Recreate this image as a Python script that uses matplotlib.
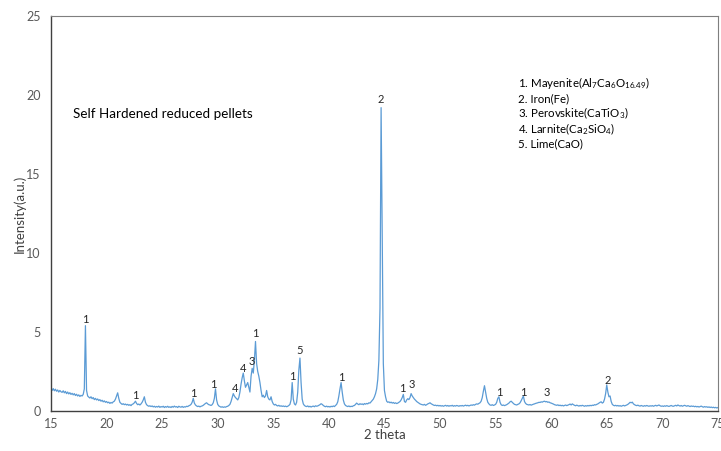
import numpy as np
import matplotlib
matplotlib.use("Agg")
import matplotlib.pyplot as plt

plt.rcParams['font.family'] = ['Lato', 'DejaVu Sans']
plt.rcParams['mathtext.fontset'] = 'custom'
plt.rcParams['mathtext.rm'] = 'Lato'
plt.rcParams['mathtext.default'] = 'regular'

# 2 theta grid, 0.1 degree steps from 15 to 75
two_theta = np.round(np.arange(150, 751) / 10.0, 1)

# intensity, one row per degree
intensity = [
    1.35, 1.30, 1.42, 1.28, 1.38, 1.25, 1.33, 1.20, 1.30, 1.22,  # 15
    1.18, 1.28, 1.15, 1.24, 1.10, 1.20, 1.08, 1.16, 1.05, 1.12,  # 16
    1.02, 1.10, 0.98, 1.06, 0.95, 1.02, 0.92, 0.99, 0.95, 1.05,  # 17
    1.40, 5.40, 1.30, 0.95, 0.88, 0.82, 0.90, 0.78, 0.85, 0.72,  # 18
    0.80, 0.70, 0.76, 0.66, 0.72, 0.62, 0.68, 0.58, 0.64, 0.55,  # 19
    0.60, 0.52, 0.56, 0.48, 0.54, 0.50, 0.58, 0.62, 0.75, 0.95,  # 20
    1.15, 0.80, 0.55, 0.48, 0.42, 0.46, 0.40, 0.44, 0.38, 0.42,  # 21
    0.36, 0.40, 0.34, 0.42, 0.45, 0.52, 0.62, 0.48, 0.40, 0.44,  # 22
    0.38, 0.45, 0.55, 0.70, 0.90, 0.55, 0.40, 0.34, 0.30, 0.33,  # 23
    0.28, 0.32, 0.26, 0.30, 0.24, 0.29, 0.25, 0.31, 0.23, 0.28,  # 24
    0.25, 0.30, 0.22, 0.28, 0.24, 0.30, 0.23, 0.27, 0.22, 0.29,  # 25
    0.24, 0.31, 0.25, 0.28, 0.22, 0.30, 0.26, 0.24, 0.29, 0.23,  # 26
    0.27, 0.25, 0.30, 0.28, 0.33, 0.36, 0.42, 0.55, 0.80, 0.50,  # 27
    0.38, 0.32, 0.28, 0.31, 0.26, 0.30, 0.32, 0.36, 0.42, 0.48,  # 28
    0.52, 0.45, 0.40, 0.38, 0.35, 0.40, 0.52, 0.80, 1.40, 0.70,  # 29
    0.42, 0.32, 0.28, 0.24, 0.27, 0.23, 0.26, 0.24, 0.28, 0.30,  # 30
    0.35, 0.42, 0.60, 0.85, 1.10, 0.95, 0.85, 0.78, 0.70, 0.85,  # 31
    1.20, 1.70, 2.10, 2.40, 1.90, 1.50, 1.65, 1.80, 1.50, 1.20,  # 32
    2.20, 2.70, 2.40, 3.20, 4.40, 3.00, 2.50, 2.20, 1.80, 1.30,  # 33
    0.90, 1.00, 0.85, 0.95, 1.30, 0.90, 0.75, 0.70, 0.90, 0.60,  # 34
    0.45, 0.38, 0.42, 0.35, 0.32, 0.36, 0.30, 0.33, 0.29, 0.32,  # 35
    0.28, 0.31, 0.27, 0.30, 0.35, 0.42, 0.70, 1.80, 0.75, 0.45,  # 36
    0.38, 0.55, 1.20, 2.60, 3.35, 1.80, 0.75, 0.45, 0.35, 0.30,  # 37
    0.28, 0.32, 0.26, 0.30, 0.25, 0.29, 0.31, 0.27, 0.33, 0.30,  # 38
    0.32, 0.36, 0.40, 0.46, 0.42, 0.35, 0.30, 0.27, 0.31, 0.26,  # 39
    0.29, 0.25, 0.30, 0.27, 0.32, 0.28, 0.35, 0.42, 0.58, 0.95,  # 40
    1.40, 1.80, 1.20, 0.70, 0.45, 0.35, 0.31, 0.28, 0.32, 0.27,  # 41
    0.30, 0.28, 0.33, 0.35, 0.42, 0.50, 0.44, 0.40, 0.46, 0.42,  # 42
    0.45, 0.40, 0.47, 0.43, 0.48, 0.45, 0.52, 0.50, 0.58, 0.65,  # 43
    0.75, 0.90, 1.10, 1.40, 2.00, 3.20, 6.50, 19.20, 11.30, 3.00,  # 44
    1.30, 0.90, 0.62, 0.55, 0.58, 0.52, 0.56, 0.50, 0.54, 0.48,  # 45
    0.52, 0.47, 0.50, 0.55, 0.60, 0.70, 0.85, 1.05, 0.60, 0.55,  # 46
    0.70, 0.78, 0.72, 0.85, 1.10, 0.95, 0.85, 0.75, 0.68, 0.60,  # 47
    0.55, 0.50, 0.45, 0.42, 0.40, 0.38, 0.42, 0.36, 0.40, 0.45,  # 48
    0.48, 0.52, 0.46, 0.42, 0.38, 0.35, 0.37, 0.33, 0.36, 0.32,  # 49
    0.35, 0.31, 0.34, 0.30, 0.33, 0.36, 0.31, 0.35, 0.30, 0.34,  # 50
    0.32, 0.36, 0.30, 0.34, 0.31, 0.35, 0.33, 0.30, 0.34, 0.32,  # 51
    0.35, 0.31, 0.34, 0.37, 0.33, 0.36, 0.32, 0.35, 0.38, 0.36,  # 52
    0.40, 0.37, 0.42, 0.45, 0.43, 0.48, 0.52, 0.62, 0.85, 1.25,  # 53
    1.60, 1.20, 0.80, 0.55, 0.45, 0.38, 0.36, 0.40, 0.35, 0.38,  # 54
    0.42, 0.55, 0.80, 0.90, 0.55, 0.40, 0.35, 0.38, 0.34, 0.37,  # 55
    0.40, 0.45, 0.50, 0.58, 0.62, 0.55, 0.48, 0.42, 0.40, 0.38,  # 56
    0.42, 0.45, 0.52, 0.65, 0.80, 0.95, 0.60, 0.48, 0.42, 0.40,  # 57
    0.38, 0.41, 0.37, 0.40, 0.43, 0.45, 0.48, 0.50, 0.52, 0.55,  # 58
    0.54, 0.58, 0.56, 0.60, 0.62, 0.58, 0.60, 0.55, 0.57, 0.52,  # 59
    0.50, 0.47, 0.44, 0.40, 0.38, 0.36, 0.39, 0.34, 0.37, 0.33,  # 60
    0.36, 0.32, 0.35, 0.38, 0.34, 0.37, 0.40, 0.44, 0.38, 0.45,  # 61
    0.40, 0.36, 0.33, 0.37, 0.34, 0.31, 0.35, 0.32, 0.36, 0.33,  # 62
    0.30, 0.34, 0.31, 0.35, 0.32, 0.36, 0.33, 0.37, 0.35, 0.40,  # 63
    0.38, 0.42, 0.45, 0.50, 0.55, 0.58, 0.50, 0.55, 0.75, 1.10,  # 64
    1.65, 1.20, 0.90, 0.95, 0.60, 0.42, 0.36, 0.33, 0.36, 0.32,  # 65
    0.35, 0.31, 0.34, 0.30, 0.33, 0.36, 0.32, 0.35, 0.38, 0.42,  # 66
    0.48, 0.55, 0.52, 0.56, 0.45, 0.40, 0.36, 0.34, 0.37, 0.33,  # 67
    0.31, 0.35, 0.32, 0.30, 0.34, 0.31, 0.35, 0.32, 0.30, 0.33,  # 68
    0.31, 0.34, 0.30, 0.33, 0.36, 0.32, 0.35, 0.38, 0.33, 0.30,  # 69
    0.32, 0.29, 0.33, 0.30, 0.34, 0.31, 0.29, 0.32, 0.35, 0.31,  # 70
    0.30, 0.33, 0.36, 0.32, 0.38, 0.34, 0.31, 0.35, 0.30, 0.33,  # 71
    0.36, 0.33, 0.30, 0.34, 0.31, 0.28, 0.32, 0.29, 0.31, 0.27,  # 72
    0.30, 0.26, 0.29, 0.25, 0.28, 0.31, 0.27, 0.24, 0.28, 0.25,  # 73
    0.27, 0.23, 0.26, 0.22, 0.25, 0.21, 0.24, 0.20, 0.23, 0.19,  # 74
    0.22,                                                        # 75
]

# phase labels over the peaks: (2 theta, height, label)
peak_pos = [18.1, 22.6, 27.8, 29.6, 31.6, 32.25, 33.05, 33.4, 36.7, 37.35,
            41.15, 44.65, 46.65, 47.45, 55.3, 57.5, 59.6, 65.1]
peak_y = [5.8, 0.95, 1.1, 1.7, 1.45, 2.7, 3.15, 4.9, 2.2, 3.85,
          2.15, 19.7, 1.4, 1.7, 1.15, 1.2, 1.2, 1.95]
peak_labels = ['1', '1', '1', '1', '4', '4', '3', '1', '1', '5',
               '1', '2', '1', '3', '1', '1', '3', '2']

phases = [
    '1. Mayenite(Al$_7$Ca$_6$O$_{16.49}$)',
    '2. Iron(Fe)',
    '3. Perovskite(CaTiO$_3$)',
    '4. Larnite(Ca$_2$SiO$_4$)',
    '5. Lime(CaO)',
]

fig = plt.figure(figsize=(7.21, 4.51), dpi=100)
ax = fig.add_axes([0.0707, 0.0887, 0.925, 0.8758])

ax.plot(two_theta, intensity, color='#5B9BD5', lw=0.9)

for x, y, s in zip(peak_pos, peak_y, peak_labels):
    ax.text(x, y, s, ha='center', va='center', fontsize=8, color='#262626')

ax.text(17.0, 18.8, 'Self Hardened reduced pellets', ha='left', va='center',
        fontsize=9.7, color='#000000')

for i, s in enumerate(phases):
    ax.text(0.701, 0.830 - i * 0.0385, s, transform=ax.transAxes,
            ha='left', va='center', fontsize=8.3, color='#000000')

ax.set_xlim(15, 75)
ax.set_ylim(0, 25)
ax.set_xticks(range(15, 76, 5))
ax.set_yticks(range(0, 26, 5))
ax.tick_params(length=0, labelsize=9, labelcolor='#595959')
ax.tick_params(axis='y', pad=7.5)
ax.tick_params(axis='x', pad=5)

for side in ['left', 'bottom']:
    ax.spines[side].set_color('#404040')
    ax.spines[side].set_linewidth(1.0)
for side in ['top', 'right']:
    ax.spines[side].set_color('#7f7f7f')
    ax.spines[side].set_linewidth(0.8)

ax.set_xlabel('2 theta', fontsize=9.5, color='#404040', labelpad=-1)
ax.set_ylabel('Intensity(a.u.)', fontsize=9.5, color='#404040', labelpad=0)

fig.savefig('out.png', dpi=100)
